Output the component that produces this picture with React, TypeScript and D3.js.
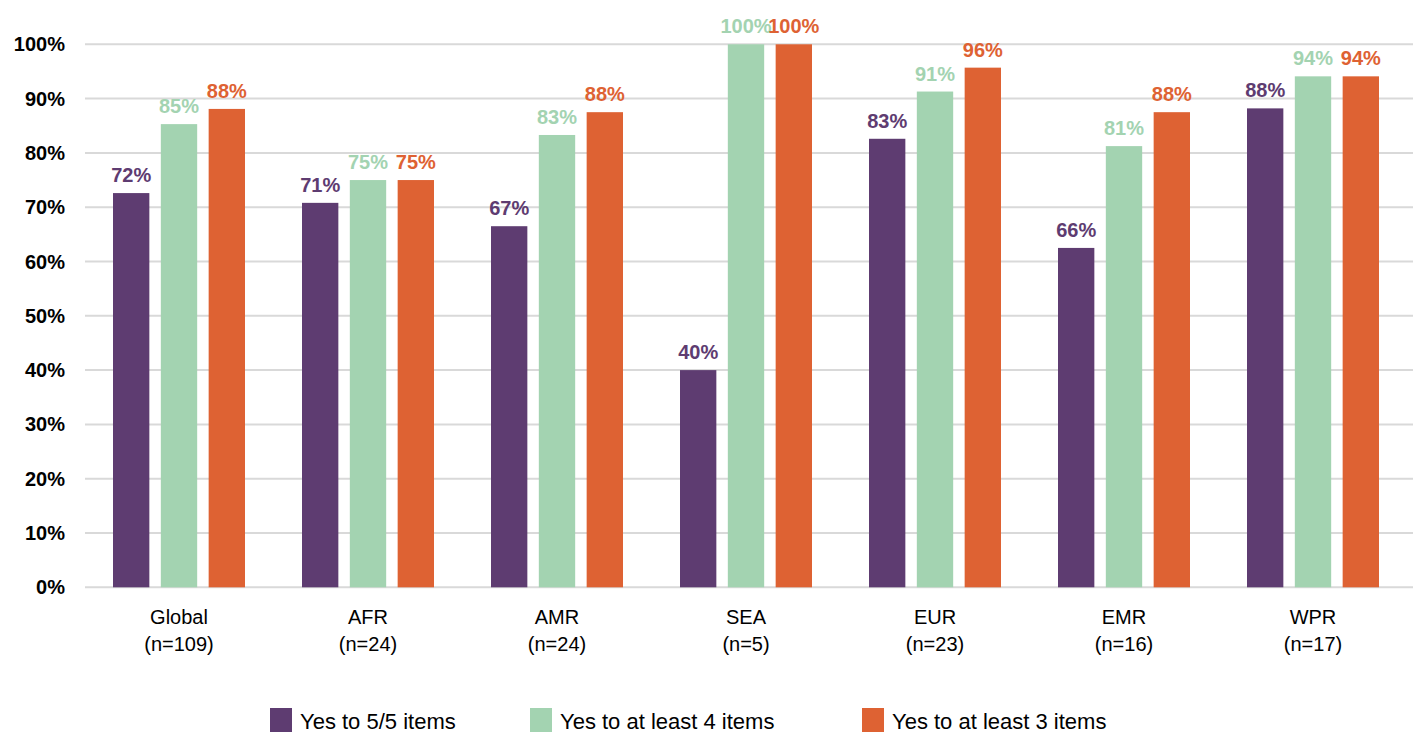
import React from "react";
import * as d3 from "d3";

const categories = ["Global", "AFR", "AMR", "SEA", "EUR", "EMR", "WPR"];
const sampleSizes = ["(n=109)", "(n=24)", "(n=24)", "(n=5)", "(n=23)", "(n=16)", "(n=17)"];
const seriesNames = ["Yes to 5/5 items", "Yes to at least 4 items", "Yes to at least 3 items"];
const yes5 = [0.726, 0.708, 0.665, 0.4, 0.826, 0.625, 0.882];
const yes4 = [0.853, 0.75, 0.833, 1.0, 0.913, 0.8125, 0.941];
const yes3 = [0.881, 0.75, 0.875, 1.0, 0.957, 0.875, 0.941];
const yes5Labels = ["72%", "71%", "67%", "40%", "83%", "66%", "88%"];
const yes4Labels = ["85%", "75%", "83%", "100%", "91%", "81%", "94%"];
const yes3Labels = ["88%", "75%", "88%", "100%", "96%", "88%", "94%"];
const yTicks = [0, 0.1, 0.2, 0.3, 0.4, 0.5, 0.6, 0.7, 0.8, 0.9, 1.0];
const colors = ["#5E3C71", "#A3D3B1", "#DE6233"];

const W = 1413;
const H = 735;
const FONT = "'Liberation Sans', Arial, Helvetica, sans-serif";

export default function App() {
  const series = [yes5, yes4, yes3];
  const labels = [yes5Labels, yes4Labels, yes3Labels];
  const y = d3.scaleLinear().domain([0, 1]).range([587.3, 44.3]);
  const x = d3.scaleBand<string>().domain(categories).range([84.5, 1407.5]).padding(0);
  const inner = d3
    .scaleBand<number>()
    .domain([0, 1, 2])
    .range([28.5, 160.5])
    .paddingInner(0.24)
    .paddingOuter(0);
  const fmt = d3.format(".0%");
  const legendX = [270, 530, 862];

  return (
    <svg
      width={W}
      height={H}
      style={{ position: "absolute", left: 0, top: 0, background: "#fff" }}
      fontFamily={FONT}
    >
      {yTicks.map((t) => (
        <g key={t}>
          <line x1={85} x2={1413} y1={y(t)} y2={y(t)} stroke="#d9d9d9" strokeWidth={2} />
          <text
            x={65}
            y={y(t)}
            dy="0.35em"
            textAnchor="end"
            fontWeight="bold"
            fontSize={20}
            fill="#000"
          >
            {fmt(t)}
          </text>
        </g>
      ))}
      {categories.map((c, i) => (
        <g key={c} transform={`translate(${x(c)},0)`}>
          {series.map((s, j) => (
            <rect
              key={j}
              x={inner(j)}
              width={inner.bandwidth()}
              y={y(s[i])}
              height={y(0) - y(s[i])}
              fill={colors[j]}
            />
          ))}
          {series.map((s, j) => (
            <text
              key={"l" + j}
              x={(inner(j) as number) + inner.bandwidth() / 2}
              y={y(s[i]) - 11}
              textAnchor="middle"
              fontWeight="bold"
              fontSize={20}
              fill={colors[j]}
            >
              {labels[j][i]}
            </text>
          ))}
          <text x={x.bandwidth() / 2} y={624} textAnchor="middle" fontSize={20} fill="#000">
            {c}
          </text>
          <text x={x.bandwidth() / 2} y={651} textAnchor="middle" fontSize={20} fill="#000">
            {sampleSizes[i]}
          </text>
        </g>
      ))}
      {seriesNames.map((n, j) => (
        <g key={n} transform={`translate(${legendX[j]},0)`}>
          <rect x={0} y={708} width={22} height={24} fill={colors[j]} />
          <text x={30} y={729} fontSize={22} fill="#000">
            {n}
          </text>
        </g>
      ))}
    </svg>
  );
}
